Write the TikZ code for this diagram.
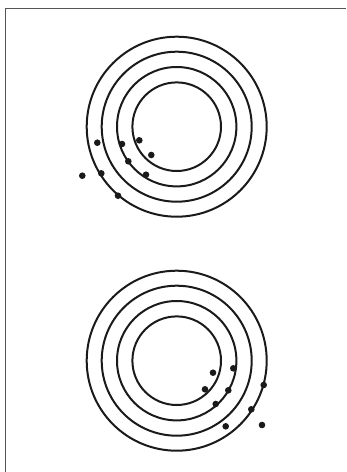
\documentclass[tikz,border=0pt]{standalone}
\usetikzlibrary{positioning}
\definecolor{mFrame}{HTML}{555555}
\definecolor{mInk}{HTML}{1A1A1A}

\begin{document}
\begin{tikzpicture}[
  x=1pt, y=-1pt,
  ring/.style={draw=mInk, line width=2pt},
  pt/.style={fill=mInk},
  frame/.style={draw=mFrame, line width=1pt},
]
  \useasboundingbox (0,0) rectangle (346,472);

  % Frame
  \draw[frame] (5,472) -- (5,8) -- (346,8);

  % Upper target
  \coordinate (top) at (176.7,126.7);
  \foreach \r in {90,75,59.7,44.3}
    \draw[ring] (top) circle[radius=\r];
  \foreach \x/\y in {97.3/142.7, 122/144, 139.3/140.3, 151.3/155, 128.3/161.3,
                     146/174.7, 82.3/175.7, 101.3/173.3, 118/195.7}
    \fill[pt] (\x,\y) circle[radius=3.3];

  % Lower target
  \coordinate (bot) at (176.7,360.7);
  \foreach \r in {90,75,59.7,44.3}
    \draw[ring] (bot) circle[radius=\r];
  \foreach \x/\y in {213/372.7, 233.3/368.3, 205/389.3, 228.3/390.3, 215.7/404,
                     263.7/385, 251.3/409.3, 225.7/426.3, 262/425}
    \fill[pt] (\x,\y) circle[radius=3.3];
\end{tikzpicture}
\end{document}
